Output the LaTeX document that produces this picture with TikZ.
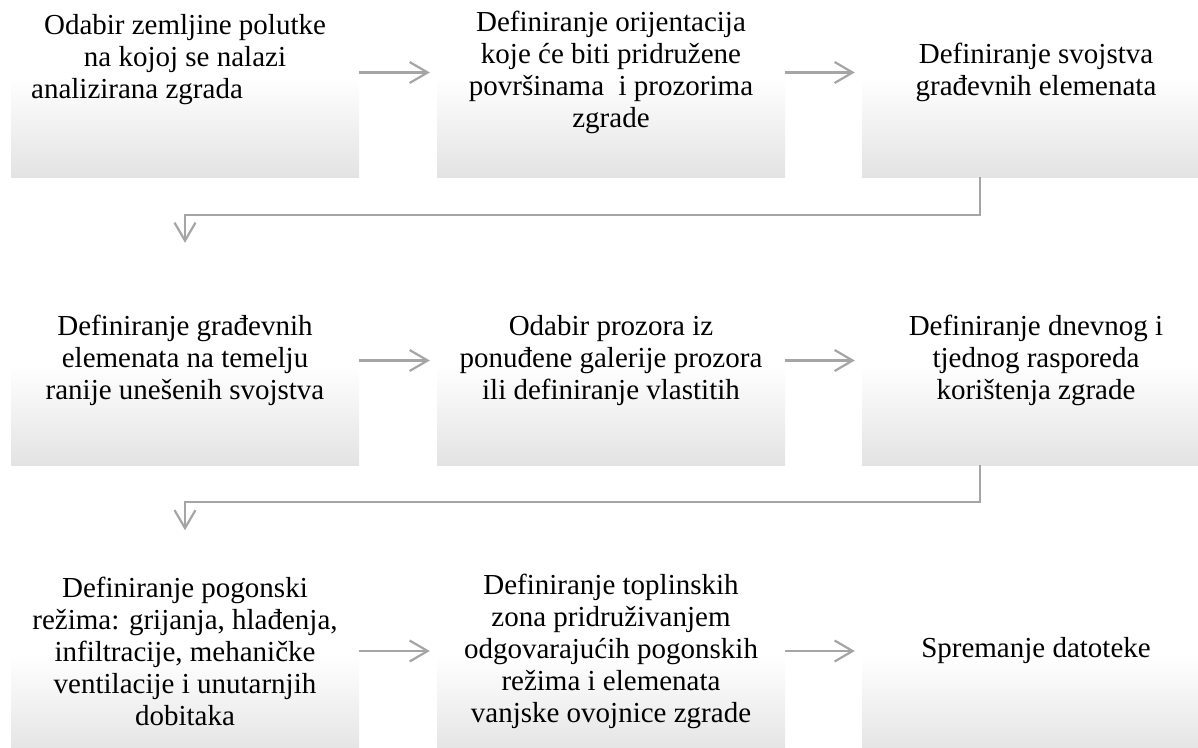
\documentclass[tikz,border=0pt]{standalone}
\usepackage{fontspec}
\setmainfont{Liberation Serif}
\usetikzlibrary{arrows.meta}
\definecolor{boxgray}{HTML}{E3E3E3}
\definecolor{linegray}{HTML}{A5A5A5}
\pgfdeclareverticalshading{boxshade}{100bp}{color(0bp)=(boxgray); color(25bp)=(boxgray); color(49bp)=(white); color(100bp)=(white)}
\begin{document}
\begin{tikzpicture}[x=1pt,y=-1pt,
  box/.style={rectangle, minimum width=348pt, minimum height=209pt, inner sep=0pt,
    shading=boxshade,
    align=center, font=\fontsize{29}{32}\selectfont},
  conn/.style={draw=linegray, line width=2.2pt, -{Straight Barb[length=18pt,width=21pt]}}]
\useasboundingbox (0,0) rectangle (1198,747);
\clip (0,0) rectangle (1198,747);

\node[box] (a1) at (185,72.5) {Odabir zemljine polutke\\na kojoj se nalazi\\\mbox{analizirana zgrada\hspace{96pt}}\\\mbox{}};
\node[box] (a2) at (611,72.5) {Definiranje orijentacija\\koje će biti pridružene\\površinama\ \ i prozorima\\zgrade};
\node[box] (a3) at (1036,72.5) {Definiranje svojstva\\građevnih elemenata};

\node[box] (b1) at (185,360.5) {Definiranje građevnih\\elemenata na temelju\\ranije unešenih svojstva};
\node[box] (b2) at (611,360.5) {Odabir prozora iz\\ponuđene galerije prozora\\ili definiranje vlastitih};
\node[box] (b3) at (1036,360.5) {Definiranje dnevnog i\\tjednog rasporeda\\korištenja zgrade};

\node[box] (c1) at (185,651) {Definiranje pogonski\\režima: grijanja, hlađenja,\\infiltracije, mehaničke\\ventilacije i unutarnjih\\dobitaka};
\node[box] (c2) at (611,651) {Definiranje toplinskih\\zona pridruživanjem\\odgovarajućih pogonskih\\režima i elemenata\\vanjske ovojnice zgrade};
\node[box] (c3) at (1036,651) {Spremanje datoteke};

\draw[conn] (a1.east) -- ([xshift=-7pt]a2.west);
\draw[conn] (a2.east) -- ([xshift=-7pt]a3.west);
\draw[conn] ([xshift=-56pt]a3.south) -- ++(0,38) -| ([yshift=13pt]b1.north);

\draw[conn] (b1.east) -- ([xshift=-7pt]b2.west);
\draw[conn] (b2.east) -- ([xshift=-7pt]b3.west);
\draw[conn] ([xshift=-56pt]b3.south) -- ++(0,37) -| ([yshift=16pt]c1.north);

\draw[conn] (c1.east) -- ([xshift=-7pt]c2.west);
\draw[conn] (c2.east) -- ([xshift=-7pt]c3.west);
\end{tikzpicture}
\end{document}
